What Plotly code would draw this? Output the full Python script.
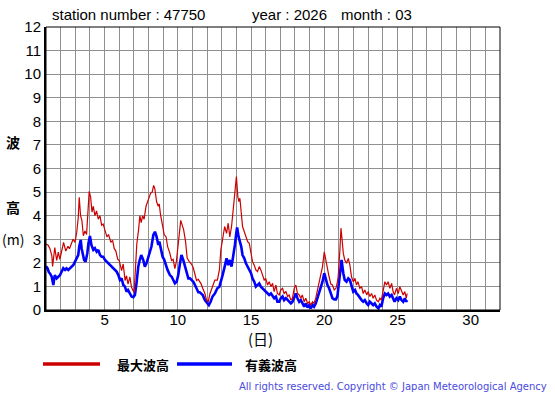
import plotly.graph_objects as go

# ---- data (day of month, metres) ----
max_days = [1.0, 1.15, 1.27, 1.4, 1.45, 1.5, 1.6, 1.73, 1.84, 1.95, 2.05, 2.2, 2.35, 2.5, 2.6, 2.7, 2.85, 2.98,
            3.1, 3.2, 3.27, 3.36, 3.45, 3.55, 3.66, 3.77, 3.9, 3.95, 4.05, 4.14, 4.23, 4.34, 4.45, 4.57, 4.68,
            4.8, 4.9, 5.05, 5.16, 5.27, 5.43, 5.55, 5.66, 5.77, 5.9, 6.0, 6.16, 6.27, 6.4, 6.5, 6.6, 6.73, 6.84,
            6.95, 7.02, 7.1, 7.2, 7.32, 7.41, 7.5, 7.6, 7.7, 7.83, 8.0, 8.14, 8.25, 8.35, 8.43, 8.55, 8.66, 8.73,
            8.82, 8.95, 9.07, 9.2, 9.3, 9.46, 9.57, 9.68, 9.8, 9.9, 10.05, 10.2, 10.3, 10.4, 10.53, 10.64, 10.78,
            10.93, 11.05, 11.17, 11.28, 11.4, 11.5, 11.6, 11.7, 11.85, 11.96, 12.08, 12.2, 12.37, 12.53, 12.7,
            12.84, 12.94, 13.1, 13.2, 13.33, 13.44, 13.55, 13.67, 13.78, 13.9, 14.0, 14.1, 14.17, 14.24, 14.33,
            14.42, 14.54, 14.65, 14.77, 14.88, 15.0, 15.1, 15.22, 15.33, 15.44, 15.56, 15.67, 15.79, 15.9, 16.0,
            16.13, 16.24, 16.36, 16.47, 16.58, 16.7, 16.8, 16.92, 17.03, 17.15, 17.26, 17.38, 17.5, 17.6, 17.72,
            17.83, 17.95, 18.06, 18.17, 18.29, 18.4, 18.5, 18.63, 18.74, 18.86, 18.97, 19.08, 19.2, 19.3, 19.42,
            19.54, 19.65, 19.77, 19.88, 20.0, 20.1, 20.22, 20.33, 20.45, 20.56, 20.68, 20.8, 20.9, 20.95, 21.07,
            21.14, 21.23, 21.3, 21.4, 21.52, 21.64, 21.75, 21.86, 21.98, 22.1, 22.2, 22.3, 22.43, 22.55, 22.66,
            22.77, 22.9, 23.0, 23.11, 23.23, 23.34, 23.45, 23.57, 23.7, 23.8, 23.9, 24.02, 24.14, 24.25, 24.36,
            24.48, 24.6, 24.7, 24.8, 24.93, 25.05, 25.16, 25.27, 25.39, 25.5, 25.6, 25.66]
max_wave = [2.8, 2.75, 2.6, 2.3, 1.85, 2.2, 2.65, 2.1, 2.45, 2.15, 2.5, 2.87, 2.5, 2.7, 2.6, 2.8, 3.0, 2.87,
            3.3, 3.9, 4.78, 4.0, 3.8, 3.15, 3.35, 3.2, 4.35, 5.03, 4.78, 4.15, 4.4, 4.0, 4.2, 3.85, 4.0,
            3.6, 3.65, 3.3, 3.1, 3.2, 2.87, 2.95, 2.6, 2.5, 2.15, 2.1, 1.67, 1.95, 1.25, 1.45, 1.1, 1.4, 0.96,
            0.82, 0.75, 1.67, 2.8, 3.4, 4.0, 3.7, 4.0, 3.85, 4.4, 4.7, 4.95, 5.0, 5.28, 5.15, 4.6, 4.4, 4.5,
            4.04, 3.6, 3.2, 3.1, 2.7, 2.4, 2.1, 2.15, 1.75, 2.05, 2.9, 3.8, 3.6, 3.4, 2.9, 2.2, 2.05,
            1.95, 1.8, 1.45, 1.25, 1.3, 1.2, 1.1, 0.92, 0.7, 0.42, 0.35, 0.7, 1.0, 1.27, 1.27,
            1.7, 2.55, 3.18, 3.54, 3.25, 3.68, 3.1, 3.54, 4.24, 4.88, 5.66, 4.8, 4.6, 4.74, 4.1,
            3.54, 3.32, 3.1, 2.9, 2.83, 2.47, 2.05, 1.9, 1.7, 1.63, 1.84, 1.7, 1.41, 1.27, 1.34,
            1.06, 1.2, 0.99, 1.13, 0.78, 1.06, 0.7, 0.64, 0.85, 0.92, 0.7, 0.78, 0.57, 0.64, 0.42,
            0.5, 0.92, 1.06, 0.7, 0.64, 0.5, 0.64, 0.35, 0.5, 0.28, 0.35, 0.21, 0.35, 0.28, 0.5,
            0.85, 1.06, 1.41, 1.84, 2.47, 2.12, 1.84, 1.41, 1.1, 1.06, 0.85, 0.92, 1.2, 1.41, 2.55,
            3.47, 2.9, 2.4, 2.12, 1.98, 2.19, 1.9, 1.41, 1.2, 1.34, 1.06, 1.2, 0.92, 0.99, 0.7,
            0.85, 0.64, 0.78, 0.57, 0.7, 0.5, 0.64, 0.42, 0.35, 0.5, 0.42, 0.85, 1.2, 1.06, 1.2,
            0.92, 1.13, 0.78, 0.64, 0.92, 0.7, 0.99, 0.78, 0.64, 0.78, 0.5, 0.7]

sig_days = [1.0, 1.1, 1.2, 1.27, 1.39, 1.5, 1.6, 1.73, 1.84, 1.96, 2.07, 2.18, 2.3, 2.4, 2.52, 2.64, 2.75, 2.87,
            2.98, 3.1, 3.2, 3.27, 3.37, 3.43, 3.5, 3.6, 3.7, 3.82, 3.9, 4.0, 4.1, 4.23, 4.34, 4.46, 4.57, 4.69,
            4.8, 4.9, 5.03, 5.14, 5.25, 5.37, 5.48, 5.6, 5.7, 5.82, 5.94, 6.05, 6.16, 6.28, 6.39, 6.5, 6.6, 6.73,
            6.84, 6.96, 7.07, 7.18, 7.3, 7.4, 7.5, 7.64, 7.75, 7.86, 7.98, 8.1, 8.2, 8.33, 8.44, 8.55, 8.67, 8.74,
            8.83, 8.96, 9.08, 9.19, 9.3, 9.46, 9.58, 9.69, 9.8, 9.92, 10.03, 10.15, 10.25, 10.37, 10.49, 10.6,
            10.72, 10.83, 10.94, 11.06, 11.17, 11.28, 11.4, 11.5, 11.6, 11.7, 11.85, 11.96, 12.12, 12.24, 12.37,
            12.53, 12.7, 12.84, 12.94, 13.06, 13.2, 13.33, 13.44, 13.55, 13.67, 13.78, 13.9, 14.0, 14.05, 14.15,
            14.24, 14.33, 14.42, 14.54, 14.65, 14.77, 14.88, 15.0, 15.1, 15.22, 15.33, 15.44, 15.56, 15.67, 15.79,
            15.9, 16.0, 16.13, 16.24, 16.36, 16.47, 16.58, 16.7, 16.8, 16.92, 17.03, 17.15, 17.26, 17.38, 17.5,
            17.6, 17.72, 17.83, 17.95, 18.06, 18.17, 18.29, 18.4, 18.5, 18.63, 18.74, 18.86, 18.97, 19.08, 19.2,
            19.3, 19.42, 19.54, 19.65, 19.77, 19.88, 20.0, 20.1, 20.22, 20.33, 20.45, 20.56, 20.68, 20.8, 20.9,
            20.95, 21.07, 21.18, 21.3, 21.4, 21.52, 21.64, 21.75, 21.86, 21.98, 22.1, 22.2, 22.3, 22.43, 22.55,
            22.66, 22.77, 22.9, 23.0, 23.11, 23.23, 23.34, 23.45, 23.57, 23.7, 23.8, 23.9, 24.02, 24.14, 24.25,
            24.36, 24.48, 24.6, 24.7, 24.8, 24.93, 25.05, 25.16, 25.27, 25.39, 25.5, 25.6, 25.66]
sig_wave = [1.85, 1.77, 1.6, 1.55, 1.41, 1.06, 1.48, 1.34, 1.41, 1.48, 1.63, 1.77, 1.7, 1.77, 1.7, 1.77, 1.84, 1.91,
            2.05, 2.19, 2.33, 2.69, 2.97, 2.62, 2.33, 2.12, 2.05, 2.4, 2.83, 3.14, 2.76, 2.55, 2.62, 2.47, 2.55, 2.33,
            2.26, 2.26, 2.12, 2.05, 1.98, 1.9, 1.84, 1.77, 1.7, 1.63, 1.48, 1.27, 1.34, 1.06, 0.99, 0.78, 0.85, 0.7,
            0.57, 0.54, 0.64, 1.13, 1.84, 2.12, 2.33, 2.12, 1.84, 1.98, 2.26, 2.55, 2.69, 3.18, 3.32, 3.11, 2.76, 2.9,
            2.62, 2.26, 2.12, 1.9, 1.7, 1.48, 1.41, 1.27, 1.13, 1.2, 1.48, 1.98, 2.33, 2.12, 1.84, 1.6,
            1.34, 1.34, 1.27, 1.2, 1.06, 0.92, 0.75, 0.75, 0.7, 0.64, 0.42, 0.35, 0.21, 0.35, 0.57,
            0.7, 0.92, 0.99, 1.27, 1.48, 1.84, 2.19, 1.9, 2.12, 1.84, 2.26, 2.76, 3.3, 3.5, 3.11,
            2.9, 2.69, 2.33, 2.19, 1.98, 1.84, 1.7, 1.56, 1.34, 1.2, 0.99, 1.06, 1.13, 0.99, 0.92,
            0.85, 0.78, 0.7, 0.64, 0.7, 0.57, 0.5, 0.57, 0.35, 0.35, 0.5, 0.57, 0.42, 0.5, 0.42,
            0.35, 0.28, 0.35, 0.57, 0.7, 0.5, 0.35, 0.42, 0.28, 0.14, 0.28, 0.11, 0.21, 0.07, 0.21,
            0.14, 0.28, 0.5, 0.7, 0.92, 1.2, 1.56, 1.27, 1.06, 0.92, 0.64, 0.5, 0.45, 0.45, 0.6,
            0.85, 1.7, 2.12, 1.56, 1.27, 1.2, 1.34, 1.27, 0.99, 0.78, 0.85, 0.7, 0.64, 0.5, 0.42,
            0.35, 0.42, 0.28, 0.21, 0.35, 0.28, 0.21, 0.28, 0.14, 0.07, 0.21, 0.14, 0.5, 0.7, 0.64,
            0.7, 0.57, 0.64, 0.5, 0.35, 0.5, 0.42, 0.57, 0.42, 0.35, 0.5, 0.35, 0.42]

x_ticks = list(range(1, 33))
x_labels = [str(d) if d % 5 == 0 else "" for d in x_ticks]
y_ticks = list(range(0, 13))

title_parts = ["station number : 47750", "year : 2026", "month : 03"]
legend_names = ["最大波高", "有義波高"]
RED = "#cc0000"
BLUE = "#0000ff"

W, H = 555, 395
L, R, T, B = 46, 55, 27, 85
PW, PH = W - L - R, H - T - B


def px(x):
    return (x - L) / PW


def py(y):
    return (H - B - y) / PH


fig = go.Figure()
fig.add_trace(go.Scatter(x=sig_days, y=sig_wave, mode="lines", name=legend_names[1],
                         line=dict(color=BLUE, width=2.6), showlegend=False))
fig.add_trace(go.Scatter(x=max_days, y=max_wave, mode="lines", name=legend_names[0],
                         line=dict(color=RED, width=1.2), showlegend=False))

font_lat = "Liberation Sans, Arial, sans-serif"
font_cjk = "Noto Sans CJK JP, sans-serif"

fig.update_layout(
    width=W, height=H, autosize=False,
    margin=dict(l=L, r=R, t=T, b=B, pad=0),
    paper_bgcolor="white", plot_bgcolor="white",
    font=dict(family=font_lat, size=15, color="black"),
    xaxis=dict(range=[1, 32], tickvals=x_ticks, ticktext=x_labels, ticks="",
               showgrid=True, gridcolor="#909090", gridwidth=1, zeroline=False,
               showline=True, linecolor="black", linewidth=2, ticklabelstandoff=-5,
               tickfont=dict(size=15, family=font_lat)),
    yaxis=dict(range=[0, 12], tickvals=y_ticks, ticks="",
               showgrid=True, gridcolor="#909090", gridwidth=1, zeroline=False,
               showline=True, linecolor="black", linewidth=2,
               tickfont=dict(size=15, family=font_lat)),
)

# frame top/right
fig.add_shape(type="rect", xref="paper", yref="paper", x0=0, x1=1, y0=0, y1=1,
              line=dict(color="black", width=1), layer="above")

# header texts
for txt, xp in zip(title_parts, [50, 250, 339]):
    fig.add_annotation(text=txt, xref="paper", yref="paper", x=px(xp), y=py(15),
                       xanchor="left", yanchor="middle", showarrow=False,
                       font=dict(size=15, family=font_lat, color="black"))

# y-axis label
for txt, yp in zip(["波", "高", "(m)"], [142, 207, 239]):
    fig.add_annotation(text="<b>" + txt + "</b>" if txt != "(m)" else txt, xref="paper", yref="paper",
                       x=px(13), y=py(yp), xanchor="center", yanchor="middle", showarrow=False,
                       font=dict(size=14, family=font_cjk, color="black"))

# x-axis label
fig.add_annotation(text="(日)", xref="paper", yref="paper", x=px(260), y=py(338),
                   xanchor="center", yanchor="middle", showarrow=False,
                   font=dict(size=15, family=font_cjk, color="black"))

# legend
for (x0, x1, tx), col, name in zip([(43, 100, 115), (177, 232, 243)], [RED, BLUE], legend_names):
    fig.add_shape(type="line", xref="paper", yref="paper", x0=px(x0), x1=px(x1), y0=py(364), y1=py(364),
                  line=dict(color=col, width=3.5))
    fig.add_annotation(text="<b>" + name + "</b>", xref="paper", yref="paper", x=px(tx), y=py(364),
                       xanchor="left", yanchor="middle", showarrow=False,
                       font=dict(size=13, family=font_cjk, color="black"))

fig.add_annotation(text="All rights reserved. Copyright © Japan Meteorological Agency",
                   xref="paper", yref="paper", x=px(549), y=py(386), xanchor="right", yanchor="middle",
                   showarrow=False, font=dict(size=10, family="DejaVu Sans, sans-serif", color="#4a4ae0"))

fig.write_html("out.html", post_script="document.body.style.margin='0px';",
               config={"displayModeBar": False})
